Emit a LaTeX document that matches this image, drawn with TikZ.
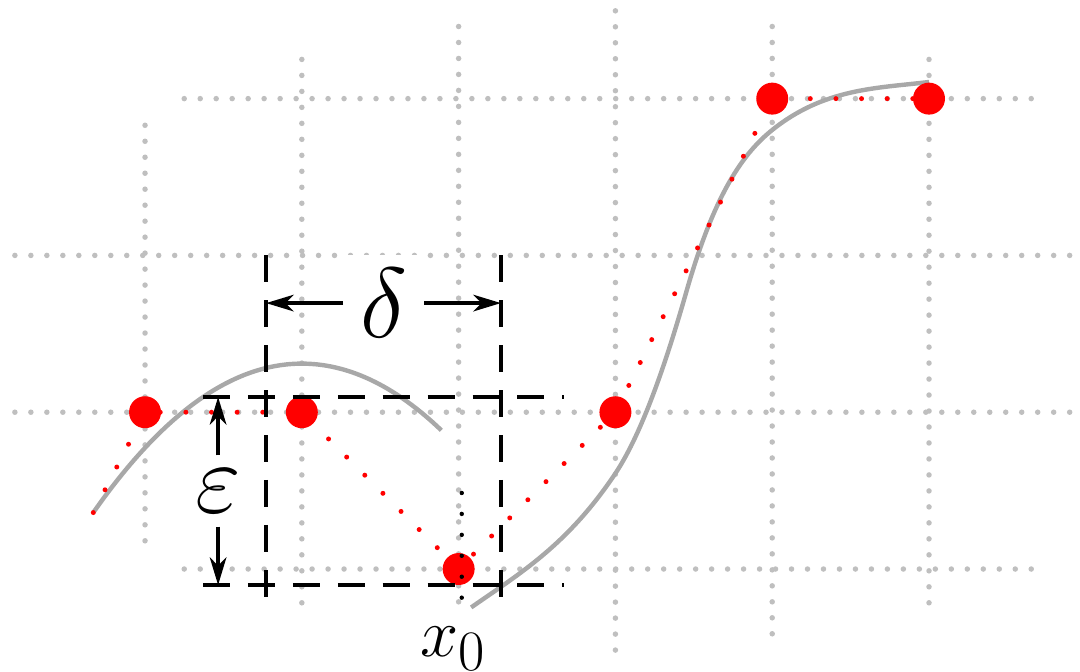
\documentclass[tikz,border=0pt]{standalone}
\usepackage{amsmath}
\usepackage{graphicx}
\usepackage{tikz}
\usetikzlibrary{arrows.meta}

\begin{document}
\begin{tikzpicture}[x=2cm,y=2cm,
    gridline/.style={gray!50,line width=2pt,line cap=round,dash pattern=on 0pt off 5.8pt},
    curve/.style={black!34,line width=1.6pt},
    interp/.style={red,line width=1.8pt,line cap=round,dash pattern=on 0pt off 9.3pt},
    sample/.style={circle,fill=red,inner sep=0pt,minimum size=11.6pt},
    bound/.style={line width=1.45pt,dash pattern=on 9.8pt off 6.5pt},
    guide/.style={line width=1.6pt,line cap=round,dash pattern=on 0pt off 7.6pt},
    dimarrow/.style={line width=1.45pt,-{Stealth[length=10pt,width=6pt,inset=3pt]}},
    lbl/.style={fill=white,inner xsep=6pt,inner ysep=5pt,font=\Huge}]
  \useasboundingbox (-0.925,-0.651) rectangle (5.963,3.629);
  \draw[gridline] (0.25,3) -- (5.72,3);
  \draw[gridline] (-0.83,2) -- (5.92,2);
  \draw[gridline] (-0.83,1) -- (5.92,1);
  \draw[gridline] (0.25,0) -- (5.72,0);
  \draw[gridline] (0,2.83) -- (0,0.15);
  \draw[gridline] (1,3.25) -- (1,-0.26);
  \draw[gridline] (2,3.46) -- (2,-0.21);
  \draw[gridline] (3,3.56) -- (3,-0.53);
  \draw[gridline] (4,3.46) -- (4,-0.45);
  \draw[gridline] (5,3.25) -- (5,-0.26);
  \draw[curve] plot[domain=-0.33:1.89,smooth,samples=40] (\x,{1.31-0.537*(\x-1)*(\x-1)});
  \draw[curve] (2.08,-0.245) .. controls (2.387,-0.03) and (2.693,0.15) .. (3.0,0.61)
    .. controls (3.15,0.835) and (3.3,1.235) .. (3.45,1.76)
    .. controls (3.633,2.401) and (3.817,2.653) .. (4.0,2.80)
    .. controls (4.333,3.067) and (4.667,3.066) .. (5.0,3.106);
  \coordinate (s0) at (-0.33,0.36);
  \coordinate (s1) at (0,1);
  \coordinate (s2) at (1,1);
  \coordinate (s3) at (2,0);
  \coordinate (s4) at (3,1);
  \coordinate (s5) at (4,3);
  \coordinate (s6) at (5,3);
  \draw[interp] (s0) -- (s1) -- (s2) -- (s3) -- (s4) -- (s5) -- (s6);
  \node[sample] (d1) at (s1) {};
  \node[sample] (d2) at (s2) {};
  \node[sample] (d3) at (s3) {};
  \node[sample] (d4) at (s4) {};
  \node[sample] (d5) at (s5) {};
  \node[sample] (d6) at (s6) {};
  \draw[bound] (0.772,2) coordinate (vl) -- (0.772,-0.2);
  \draw[bound] (2.27,2) coordinate (vr) -- (2.27,-0.2);
  \draw[bound] (0.37,1.097) coordinate (ht) -- (2.672,1.097);
  \draw[bound] (0.37,-0.102) coordinate (hb) -- (2.672,-0.102);
  \node[lbl] (delta) at (1.521,1.696) {\scalebox{1.45}{$\delta$}};
  \node[lbl] (eps) at (0.466,0.4975) {\scalebox{1.45}{$\varepsilon$}};
  \draw[dimarrow] (delta) -- (delta -| vl);
  \draw[dimarrow] (delta) -- (delta -| vr);
  \draw[dimarrow] (eps) -- (eps |- ht);
  \draw[dimarrow] (eps) -- (eps |- hb);
  \coordinate (xtop) at (2.02,0.485);
  \coordinate (xbot) at (2.02,-0.2);
  \draw[guide] (xtop) -- (xbot);
  \node[anchor=base,font=\Huge] (x0) at (1.964,-0.561) {$x_0$};
\end{tikzpicture}
\end{document}
